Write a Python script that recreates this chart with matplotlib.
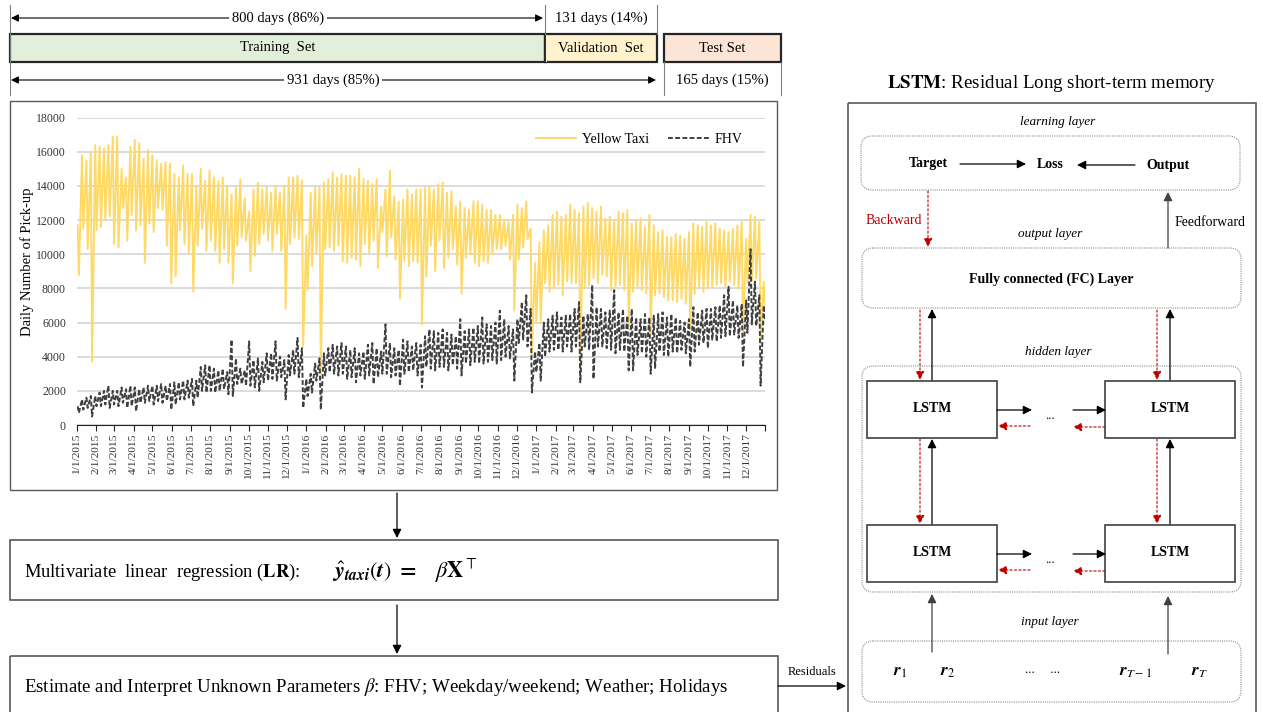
import matplotlib
matplotlib.use('Agg')
import matplotlib.pyplot as plt
from matplotlib.patches import Rectangle, FancyBboxPatch
import numpy as np
import pandas as pd

plt.rcParams['font.family'] = ['Liberation Serif', 'DejaVu Serif']
plt.rcParams['mathtext.fontset'] = 'stix'

W, H = 1263, 712

# Weekly high / low of daily pick-ups, one entry per week counted from 1/1/2015
# (rows grouped by month)
taxi_high = [
    11700, 15800, 15500, 16000, 16400,  # 2015
    16300, 16200, 16400, 16900,
    16900, 15000, 14500, 16300,
    16700, 16500, 15600, 16100, 15800,
    15500, 15300, 15400, 15300,
    14700, 14500, 15200, 14700,
    14700, 14000, 15000, 14300, 14900,
    14500, 14300, 14500, 14000,
    13500, 13900, 14400, 13300,
    12500, 13800, 14200, 13800, 13900,
    13600, 14000, 13600, 14000,
    14500, 14500, 14600, 14300, 11100,
    13600, 13900, 13900, 14200,  # 2016
    14400, 14800, 14500, 14700,
    14600, 14600, 14500, 15000, 14400,
    14300, 14100, 14400, 12800,
    13800, 14900, 13400, 13100,
    13200, 13800, 13500, 13800, 13800,
    13900, 14000, 13800, 14100,
    14200, 13600, 13700, 12800,
    13100, 12700, 12600, 13100, 13100,
    12900, 12600, 12600, 12300,
    12300, 12000, 11900, 12300,
    12900, 12700, 13100, 11500, 9500,
    10700, 11400, 11700, 12300,  # 2017
    12500, 12200, 12300, 12900,
    12600, 12400, 12800, 13000, 12700,
    12500, 12800, 12100, 12200,
    12000, 12500, 12400, 12600,
    11800, 12000, 12100, 11600, 12300,
    11700, 11300, 11400, 11000,
    11000, 11200, 11100, 10900, 11300,
    11800, 11700, 11600, 11900,
    11700, 11800, 11500, 11400,
    11300, 11500, 11700, 11900, 10900,
    12300, 12200, 11900, 8400,
]
taxi_low = [
    8800, 11500, 10300, 3700, 11400,  # 2015
    11600, 12000, 12200, 10600,
    10400, 12700, 10800, 12300,
    11400, 11700, 9500, 11800, 11300,
    12700, 12600, 10500, 8300,
    8700, 11400, 10600, 10100,
    7800, 10500, 11500, 10200, 10800,
    10200, 9500, 10300, 9500,
    8300, 10500, 11000, 10800,
    9000, 9900, 10600, 11200, 10800,
    10200, 11200, 10200, 6800,
    10600, 11000, 10900, 4600, 7900,
    9300, 10100, 3000, 10300,  # 2016
    10400, 10200, 10500, 9600,
    9500, 9800, 9700, 9300, 10600,
    10100, 10800, 9200, 11300,
    9900, 11000, 9700, 7400,
    9600, 9300, 9600, 9500, 5900,
    8700, 10500, 9000, 10800,
    9200, 9800, 10300, 9400,
    7700, 9800, 10000, 9500, 9300,
    9600, 9500, 10000, 10300,
    10300, 10500, 9700, 6700,
    9700, 10400, 10900, 4100, 6000,
    6000, 8300, 7800, 8000,  # 2017
    8200, 7600, 8400, 8300,
    8300, 3300, 8000, 8200, 8600,
    8300, 8800, 8700, 7900,
    8100, 8200, 7900, 5800,
    7800, 8100, 7900, 7700, 5400,
    7600, 7700, 7500, 7300,
    7300, 7200, 7400, 7100, 5600,
    7700, 8100, 7800, 8000,
    8100, 8200, 8300, 8100,
    8400, 8200, 8000, 5500, 8300,
    8400, 8600, 4800, 6800,
]
fhv_high = [
    1100, 1500, 1600, 1700, 1700,  # 2015
    1900, 2000, 2300, 2000,
    2000, 2200, 2100, 2300,
    2200, 2100, 2200, 2300, 2300,
    2300, 2400, 2300, 2400,
    2500, 2500, 2600, 2600,
    2700, 2600, 3400, 3500, 3500,
    3300, 3200, 3300, 3100,
    5000, 3900, 3300, 3200,
    4900, 3800, 3900, 3700, 4200,
    4200, 4900, 4000, 3800,
    4100, 4400, 5100, 4500, 2700,
    3000, 3600, 3900, 4200,  # 2016
    4500, 4700, 4600, 4800,
    4600, 4400, 4500, 4200, 4300,
    4700, 4800, 4500, 4300,
    5900, 4800, 4500, 4400,
    5000, 4900, 4600, 4800, 4700,
    5200, 5600, 5500, 5400,
    5600, 5400, 5300, 5200,
    6200, 5500, 5600, 5700, 5800,
    6300, 5900, 5800, 6000,
    6700, 6200, 5800, 5600,
    6200, 7200, 7600, 6800, 4300,
    4800, 6000, 6200, 6400,  # 2017
    6600, 6300, 6400, 6500,
    6800, 7200, 6400, 6500, 8200,
    6900, 6800, 6600, 6700,
    7900, 6600, 6800, 6400,
    6800, 6300, 6200, 6500, 6300,
    6400, 6500, 6600, 6300,
    6500, 6300, 6100, 6000, 6200,
    6900, 6600, 6700, 6800,
    6800, 6900, 7000, 7600,
    8100, 7300, 7000, 7100, 7300,
    10300, 8400, 7600, 7000,
]
fhv_low = [
    700, 900, 1000, 500, 1100,  # 2015
    1100, 1200, 1000, 1200,
    1100, 1300, 1000, 1100,
    800, 1300, 1300, 1400, 1200,
    1400, 1300, 1400, 900,
    1200, 1500, 1500, 1600,
    1100, 1600, 2000, 1900, 2000,
    1900, 2000, 2100, 1800,
    1700, 2400, 2400, 2300,
    2300, 2200, 2000, 2500, 2600,
    2700, 2600, 2800, 1500,
    2900, 3000, 2800, 1000, 1700,
    1900, 2600, 900, 2900,  # 2016
    3100, 3000, 2900, 3000,
    2700, 2800, 2500, 2900, 2700,
    2900, 2400, 2800, 3000,
    3000, 2800, 2900, 2300,
    3000, 3100, 3200, 2900, 2200,
    3400, 3300, 3200, 3400,
    3400, 3200, 3500, 3300,
    2900, 3600, 3500, 3700, 3600,
    3600, 3700, 3800, 3600,
    3800, 4000, 3900, 2600,
    4800, 5000, 4600, 1900, 3100,
    2600, 4000, 4300, 4400,  # 2017
    4400, 4300, 4600, 4300,
    4600, 2500, 4600, 4400, 2700,
    4600, 4600, 4500, 4400,
    4200, 4400, 4300, 3200,
    3200, 4100, 4200, 4000, 3000,
    3300, 4300, 4100, 4000,
    4300, 4200, 4400, 4200, 3400,
    4300, 4700, 4800, 4500,
    5000, 4900, 5100, 5200,
    5200, 5300, 5100, 3400, 5400,
    5900, 5800, 2300, 6200,
]

month_starts = pd.date_range('2015-01-01', '2017-12-01', freq='MS')
month_labels = [f'{d.month}/{d.day}/{d.year}' for d in month_starts]
n_days = 1095

TAXI = '#ffd966'
FHV = '#404040'
RED = '#c00000'
EDGE = '#595959'


def zigzag(high, low):
    # weekly high on Friday, low on Sunday (1/1/2015 was a Thursday)
    x, y = [], []
    for k, (hi, lo) in enumerate(zip(high, low)):
        x += [7 * k + 1, 7 * k + 3]
        y += [hi, lo]
    return np.array(x), np.array(y)


fig = plt.figure(figsize=(W / 100, H / 100), dpi=100)

# ---- time series panel ----
ax = fig.add_axes([77 / W, 1 - 425 / H, (765 - 77) / W, (425 - 117.7) / H])
tx, ty = zigzag(taxi_high, taxi_low)
fx, fy = zigzag(fhv_high, fhv_low)
ax.plot(tx, ty, color=TAXI, lw=1.4, label='Yellow Taxi', zorder=3)
ax.plot(fx, fy, color=FHV, lw=1.4, ls=(0, (2.5, 1.2)), label='FHV', zorder=4)

ax.set_xlim(0, n_days)
ax.set_ylim(0, 18000)
ax.set_yticks(range(0, 18001, 2000))
ax.tick_params(axis='y', length=0, labelsize=8.5, pad=8, labelcolor='#333333')
tick_days = [(d - month_starts[0]).days for d in month_starts] + [n_days]
ax.set_xticks(tick_days)
ax.set_xticklabels(month_labels + [''], rotation=90, fontsize=8.2, color='#333333')
ax.tick_params(axis='x', length=4, width=0.8, color='#222222', pad=2)
ax.grid(axis='y', color='#d9d9d9', lw=1.3)
ax.set_axisbelow(True)
for s in ['left', 'right', 'top']:
    ax.spines[s].set_visible(False)
ax.spines['bottom'].set_color('#222222')
ax.spines['bottom'].set_linewidth(0.8)
ax.set_ylabel('Daily Number of Pick-up', fontsize=10.5)
ax.yaxis.set_label_coords(-0.062, 0.53)
ax.legend(ncol=2, loc='upper right', bbox_to_anchor=(0.985, 0.99), frameon=False,
          fontsize=10, handlelength=2.9, columnspacing=1.4, handletextpad=0.4)

# ---- diagram overlay in pixel coordinates ----
d = fig.add_axes([0, 0, 1, 1], zorder=5)
d.set_xlim(0, W)
d.set_ylim(H, 0)
d.axis('off')
d.patch.set_alpha(0)


def box(x0, y0, x1, y1, fc='none', ec=EDGE, lw=1.2, ls='-'):
    d.add_patch(Rectangle((x0, y0), x1 - x0, y1 - y0, fc=fc, ec=ec, lw=lw, ls=ls))


def rbox(x0, y0, x1, y1):
    d.add_patch(FancyBboxPatch((x0, y0), x1 - x0, y1 - y0,
                               boxstyle='round,pad=0,rounding_size=11',
                               fc='none', ec='#8c8c8c', lw=0.8, ls=(0, (1, 1))))


def arrow(x0, y0, x1, y1, color='black', ls='-', lw=0.9, ms=13, style='-|>'):
    d.annotate('', xy=(x1, y1), xytext=(x0, y0),
               arrowprops=dict(arrowstyle=style, color=color, lw=lw, ls=ls,
                               shrinkA=0, shrinkB=0, mutation_scale=ms))


def label(x, y, s, size=10, **kw):
    kw.setdefault('ha', 'center')
    kw.setdefault('va', 'center')
    d.text(x, y, s, fontsize=size, **kw)


# data split bar
for x, y0, y1 in [(10, 5, 95), (545, 5, 34), (657, 5, 34), (664, 62, 95), (781, 62, 95)]:
    d.plot([x, x], [y0, y1], color='#7f7f7f', lw=0.8)
arrow(11, 18, 543, 18, lw=0.8, ms=11, style='<|-|>')
label(278, 18, '800 days (86%)', size=10.5, bbox=dict(fc='white', ec='none', pad=2))
label(601, 18, '131 days (14%)', size=10.5)
box(10, 34, 545, 62, fc='#e2efda', ec='#262626', lw=1.6)
box(545, 34, 657, 62, fc='#fff2cc', ec='#262626', lw=1.6)
d.plot([545, 545], [35, 61], color='#262626', lw=0.8, ls=(0, (2, 1.5)))
d.plot([546, 546], [35, 61], color='#fff2cc', lw=0.8)
box(664, 34, 781, 62, fc='#fce4d6', ec='#262626', lw=1.6)
label(278, 48, 'Training  Set', size=10.5)
label(601, 48, 'Validation  Set', size=10.5)
label(722, 48, 'Test Set', size=10.5)
arrow(11, 80, 656, 80, lw=0.8, ms=11, style='<|-|>')
label(333, 80, '931 days (85%)', size=10.5, bbox=dict(fc='white', ec='none', pad=2))
label(722, 80, '165 days (15%)', size=10.5)

# chart frame and regression steps
box(10, 101, 777, 490, ec=EDGE, lw=1.0)
arrow(397, 493, 397, 538)
box(10, 540, 778, 600)
label(24, 572, r'Multivariate  linear  regression ($\mathbf{LR}$):', size=13.3, ha='left')
label(332, 571, r'$\hat{\boldsymbol{y}}_{\boldsymbol{taxi}}(\boldsymbol{t})\ \mathbf{=}\quad\beta\mathbf{X}^{\top}$',
      size=16, ha='left')
arrow(397, 605, 397, 654)
box(10, 656, 778, 716)
label(24, 687, r'Estimate and Interpret Unknown Parameters $\beta$: FHV; Weekday/weekend; Weather; Holidays',
      size=13.6, ha='left')
arrow(778, 686, 846, 686)
label(812, 672, 'Residuals', size=9)

# residual LSTM
label(1052, 83, r'$\mathbf{LSTM}$: Residual Long short-term memory', size=13.7)
box(848, 103, 1256, 716)
label(1058, 122, 'learning layer', size=9.5, style='italic')
rbox(861, 136, 1240, 190)
label(928, 164, 'Target', weight='bold')
label(1050, 165, 'Loss', weight='bold')
label(1168, 165, 'Output', weight='bold')
arrow(960, 164, 1026, 164)
arrow(1135, 165, 1077, 165)
arrow(928, 191, 928, 247, color=RED, ls=(0, (2, 2)), lw=0.8)
label(922, 221, 'Backward', color=RED, ha='right')
arrow(1168, 248, 1168, 192, color='#404040')
label(1175, 223, 'Feedforward', ha='left')
label(1050, 234, 'output layer', size=9.5, style='italic')
rbox(862, 248, 1241, 308)
label(1051, 279, 'Fully connected (FC) Layer', weight='bold')
label(1058, 352, 'hidden layer', size=9.5, style='italic')
rbox(862, 366, 1241, 592)

for row_top in (381, 525):
    for x0 in (867, 1105):
        box(x0, row_top, x0 + 130, row_top + 57, ec='#404040', lw=1.2)
        label(x0 + 65, row_top + 28, 'LSTM', weight='bold')
    yc = row_top + 29
    arrow(997, yc, 1032, yc)
    arrow(1073, yc, 1106, yc)
    label(1050, yc + 6, '...', size=9)
    arrow(1030, yc + 16, 998, yc + 16, color=RED, ls=(0, (2, 2)), lw=0.8)
    arrow(1105, yc + 17, 1073, yc + 17, color=RED, ls=(0, (2, 2)), lw=0.8)

for xr, xb in ((920, 932), (1157, 1170)):
    arrow(xr, 310, xr, 380, color=RED, ls=(0, (2, 2)), lw=0.8)
    arrow(xb, 380, xb, 309)
    arrow(xr, 439, xr, 524, color=RED, ls=(0, (2, 2)), lw=0.8)
    arrow(xb, 524, xb, 439)
arrow(932, 652, 932, 594, color='#404040')
arrow(1168, 654, 1168, 596, color='#404040')

label(1050, 622, 'input layer', size=9.5, style='italic')
rbox(862, 641, 1241, 702)
label(900, 672, r'$\boldsymbol{r}_1$', size=12.5)
label(948, 672, r'$\boldsymbol{r}_2$', size=12.5)
label(1043, 670, '...     ...', size=9)
label(1135, 672, r'$\boldsymbol{r}_{T-1}$', size=12.5)
label(1200, 672, r'$\boldsymbol{r}_T$', size=12.5)

fig.savefig('out.png', dpi=100)
